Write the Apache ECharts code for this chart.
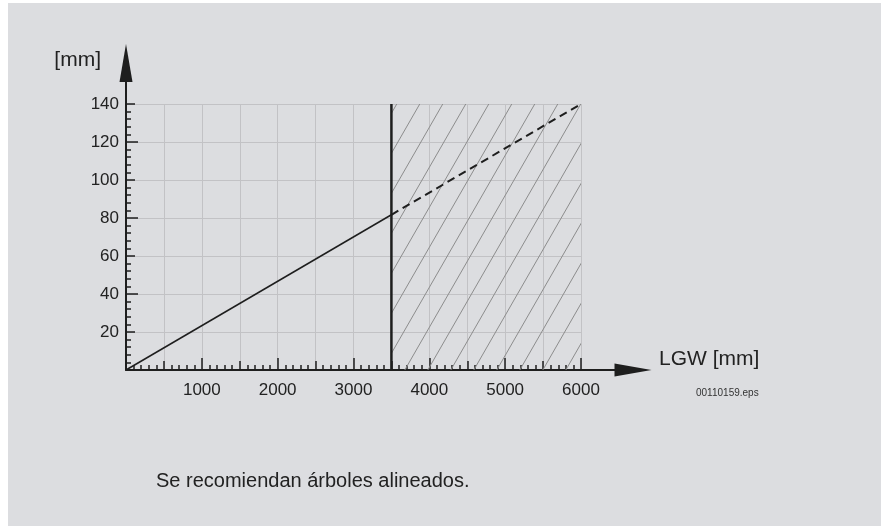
<!DOCTYPE html>
<html>
<head>
<meta charset="utf-8">
<script src="https://cdn.jsdelivr.net/npm/echarts@6/dist/echarts.min.js"></script>
<style>
  html, body { margin: 0; padding: 0; background: #fff; }
  #panel { position: absolute; left: 8px; top: 3px; width: 873px; height: 523px; background: #dcdde0; }
  #chart { position: absolute; left: 0; top: 0; width: 888px; height: 528px; }
</style>
</head>
<body>
<div id="panel"></div>
<div id="chart"></div>
<script>
  // curve points: LGW [mm] -> [mm]
  var lgw = [0, 3500, 6000];
  var mm = [0, 81.7, 140];
  // limit line and hatched zone
  var limitLgw = 3500;
  var limitMm = [0, 140];
  var zoneLgw = [3500, 6000];
  var xMax = 6000;
  var yMax = 140;
  var longYTicks = [40, 80, 120];

  var ink = '#1e1e1e';
  var font = "'Liberation Sans', Arial, sans-serif";

  // diagonal hatch pattern
  function makeHatch() {
    var w = 23, h = 40;
    var c = document.createElement('canvas');
    c.width = w; c.height = h;
    var ctx = c.getContext('2d');
    ctx.strokeStyle = '#8c8c8c';
    ctx.lineWidth = 1;
    for (var i = -1; i <= 1; i++) {
      for (var k = -1; k <= 1; k++) {
        ctx.beginPath();
        ctx.moveTo(i * w, 34 + k * h);
        ctx.lineTo(i * w + w, -6 + k * h);
        ctx.stroke();
      }
    }
    return c;
  }

  var hideZero = function (v) { return v === 0 ? '' : v; };

  var myChart = echarts.init(document.getElementById('chart'));
  myChart.setOption({
    animation: false,
    backgroundColor: 'transparent',
    textStyle: { fontFamily: font },
    title: [
      {
        text: '00110159.eps',
        left: 696, top: 388, padding: 0,
        textStyle: { fontSize: 10, fontWeight: 'normal', color: '#333', fontFamily: font }
      },
      {
        text: 'Se recomiendan árboles alineados.',
        left: 156, top: 471, padding: 0,
        textStyle: { fontSize: 20, fontWeight: 'normal', color: '#222', fontFamily: font }
      }
    ],
    grid: [
      { left: 126, right: 307, top: 104, bottom: 158 },
      { left: 126, right: 255, top: 63, bottom: 158 }
    ],
    xAxis: [
      {
        gridIndex: 0, type: 'value', min: 0, max: xMax, interval: 1000, position: 'bottom',
        axisLine: { show: false },
        axisTick: { inside: true, length: 12, lineStyle: { color: ink, width: 1.5 } },
        axisLabel: { fontSize: 17, color: '#222', margin: 12, formatter: hideZero },
        splitLine: { show: false }
      },
      {
        gridIndex: 0, type: 'value', min: 0, max: xMax, interval: 500, position: 'bottom', offset: 0,
        axisLine: { show: false },
        axisTick: { inside: true, length: 9, lineStyle: { color: ink, width: 1.5 } },
        minorTick: { show: true, splitNumber: 5, length: 5, lineStyle: { color: ink, width: 1.5 } },
        axisLabel: { show: false },
        splitLine: { show: true, lineStyle: { color: '#c2c2c5', width: 1 } }
      },
      {
        gridIndex: 1, type: 'value', min: 0, max: 1,
        axisLine: {
          show: true, onZero: false, symbol: ['none', 'triangle'], symbolSize: [13, 37],
          lineStyle: { color: ink, width: 2 }
        },
        axisTick: { show: false },
        axisLabel: { show: false },
        splitLine: { show: false },
        name: 'LGW [mm]',
        nameLocation: 'end',
        nameGap: 26,
        nameTextStyle: { fontSize: 21, color: '#222', verticalAlign: 'bottom', fontFamily: font }
      }
    ],
    yAxis: [
      {
        gridIndex: 0, type: 'value', min: 0, max: yMax, interval: 20,
        axisLine: { show: false },
        axisTick: { inside: true, length: 9, lineStyle: { color: ink, width: 1.5 } },
        minorTick: { show: true, splitNumber: 5, length: 5, lineStyle: { color: ink, width: 1.5 } },
        axisLabel: { fontSize: 17, color: '#222', margin: 7, formatter: hideZero },
        splitLine: { show: true, lineStyle: { color: '#c2c2c5', width: 1 } }
      },
      {
        gridIndex: 0, type: 'value', min: 0, max: yMax, position: 'left', offset: 0,
        axisLine: { show: false },
        axisTick: { inside: true, length: 12, customValues: longYTicks, lineStyle: { color: ink, width: 1.5 } },
        axisLabel: { show: false },
        splitLine: { show: false }
      },
      {
        gridIndex: 1, type: 'value', min: 0, max: 1,
        axisLine: {
          show: true, onZero: false, symbol: ['none', 'triangle'], symbolSize: [13, 38],
          lineStyle: { color: ink, width: 2 }
        },
        axisTick: { show: false },
        axisLabel: { show: false },
        splitLine: { show: false },
        name: '[mm]',
        nameLocation: 'end',
        nameGap: 3,
        nameTextStyle: { fontSize: 21, color: '#222', align: 'right', verticalAlign: 'middle', padding: [0, 25, 0, 0], fontFamily: font }
      }
    ],
    series: [
      {
        name: 'limit',
        type: 'line',
        xAxisIndex: 0, yAxisIndex: 0,
        symbol: 'none',
        lineStyle: { color: ink, width: 2.5 },
        data: [[limitLgw, limitMm[0]], [limitLgw, limitMm[1]]],
        markArea: {
          silent: true,
          itemStyle: { color: { image: makeHatch(), repeat: 'repeat' }, opacity: 1, borderWidth: 0 },
          data: [[{ xAxis: zoneLgw[0], yAxis: 0 }, { xAxis: zoneLgw[1], yAxis: yMax }]]
        }
      },
      {
        name: 'recommended',
        type: 'line',
        xAxisIndex: 0, yAxisIndex: 0,
        symbol: 'none',
        lineStyle: { color: ink, width: 1.5 },
        data: [[lgw[0], mm[0]], [lgw[1], mm[1]]]
      },
      {
        name: 'extended',
        type: 'line',
        xAxisIndex: 0, yAxisIndex: 0,
        symbol: 'none',
        lineStyle: { color: ink, width: 2, type: [8, 5] },
        data: [[lgw[1], mm[1]], [lgw[2], mm[2]]]
      }
    ]
  });
</script>
</body>
</html>
